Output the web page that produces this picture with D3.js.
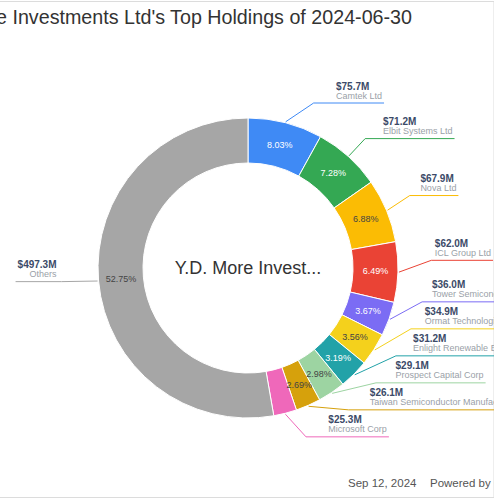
<!DOCTYPE html>
<html lang="en">
<head>
<meta charset="UTF-8">
<title>Y.D. More Investments Ltd's Top Holdings</title>
<script src="https://d3js.org/d3.v7.min.js"></script>
<style>
  body { margin: 0; font-family: "Liberation Sans", Arial, sans-serif; }
  .pct { font-size: 9px; text-anchor: middle; dominant-baseline: central; }
  .amt { font-size: 10px; font-weight: bold; fill: #3b4a68; }
  .nm { font-size: 9px; fill: #9a9fa8; }
</style>
</head>
<body>
<svg width="500" height="500"></svg>
<script>
const names = ["Camtek Ltd", "Elbit Systems Ltd", "Nova Ltd", "ICL Group Ltd", "Tower Semiconductor Ltd",
  "Ormat Technologies Inc", "Enlight Renewable Energy Ltd", "Prospect Capital Corp",
  "Taiwan Semiconductor Manufacturing Co Ltd", "Microsoft Corp", "Others"];
const amounts = [75.7, 71.2, 67.9, 62.0, 36.0, 34.9, 31.2, 29.1, 26.1, 25.3, 497.3];
const shares = [8.03, 7.28, 6.88, 6.49, 3.67, 3.56, 3.19, 2.98, 2.69, 2.48, 52.75];
const colors = ["#3f8af5", "#34a853", "#fbbc04", "#ea4335", "#7b6cf4", "#f4d11c",
  "#22a2a8", "#9dd4a2", "#d6a10c", "#ef68ba", "#a6a6a6"];

const svg = d3.select("svg");
const cx = 248, cy = 268, outer = 150, inner = 105;

svg.append("defs").append("clipPath").attr("id", "frame")
  .append("rect").attr("x", 0).attr("y", 0).attr("width", 494).attr("height", 498);
const root = svg.append("g").attr("clip-path", "url(#frame)");

root.append("rect")
  .attr("x", -20).attr("y", 1.5).attr("width", 514).attr("height", 496)
  .attr("fill", "white").attr("stroke", "#dcdcdc");

root.append("text")
  .attr("x", 412).attr("y", 24)
  .attr("text-anchor", "end")
  .style("font-size", "19.7px").style("fill", "#333")
  .text("Y.D. More Investments Ltd's Top Holdings of 2024-06-30");

root.append("text")
  .attr("x", 348).attr("y", 487)
  .style("font-size", "11.5px").style("fill", "#555")
  .text("Sep 12, 2024");
root.append("text")
  .attr("x", 430).attr("y", 487)
  .style("font-size", "11.5px").style("fill", "#555")
  .text("Powered by GuruFocus.com");

const data = names.map((n, i) => ({name: n, amount: amounts[i], share: shares[i], color: colors[i]}));
const pie = d3.pie().sort(null).value(d => d.share);
const arcs = pie(data);
const arc = d3.arc().innerRadius(inner).outerRadius(outer);

const g = root.append("g").attr("transform", `translate(${cx},${cy})`);

g.selectAll("path.slice")
  .data(arcs)
  .enter()
  .append("path")
  .attr("class", "slice")
  .attr("d", arc)
  .attr("fill", d => d.data.color)
  .attr("stroke", "white")
  .attr("stroke-width", 1);

g.selectAll("text.pct")
  .data(arcs.filter(d => d.data.share >= 2.5))
  .enter()
  .append("text")
  .attr("class", "pct")
  .attr("transform", d => `translate(${arc.centroid(d)})`)
  .style("fill", d => d3.lab(d.data.color).l > 65 ? "#444" : "#fff")
  .text(d => d.data.share.toFixed(2) + "%");

g.append("text")
  .attr("text-anchor", "middle")
  .attr("y", 6)
  .style("font-size", "18px").style("fill", "#333")
  .text("Y.D. More Invest...");

// label layout: want a spot above each slice, then push overlapping ones apart
const gap = 27, labelR = 187;
const labels = arcs.map(d => {
  const a = (d.startAngle + d.endAngle) / 2;
  const side = Math.sin(a) >= 0 ? 1 : -1;
  return {d, a, side, want: -158 * Math.cos(a) - (side > 0 ? 12 : 0)};
});

function spread(items) {
  const clusters = [];
  items.sort((p, q) => p.want - q.want).forEach(it => {
    clusters.push({items: [it], mean: it.want});
    while (clusters.length > 1) {
      const b = clusters[clusters.length - 1], a = clusters[clusters.length - 2];
      const aEnd = a.mean + gap * (a.items.length - 1) / 2;
      const bStart = b.mean - gap * (b.items.length - 1) / 2;
      if (bStart - aEnd >= gap) break;
      const all = a.items.concat(b.items);
      clusters.splice(-2, 2, {items: all, mean: d3.mean(all, x => x.want)});
    }
  });
  clusters.forEach(c => c.items.forEach((it, i) => {
    it.y = c.mean + gap * (i - (c.items.length - 1) / 2);
  }));
}
spread(labels.filter(l => l.side > 0));
spread(labels.filter(l => l.side < 0));

labels.forEach(l => {
  const dx = Math.sqrt(Math.max(0, labelR * labelR - l.y * l.y));
  const tx = l.side * dx;
  const lg = g.append("g");
  const anchor = l.side > 0 ? "start" : "end";
  const textX = l.side > 0 ? tx : tx - 5;
  const t1 = lg.append("text").attr("class", "amt")
    .attr("x", textX).attr("y", l.y - 13.5).attr("text-anchor", anchor)
    .text("$" + l.d.data.amount.toFixed(1) + "M");
  const t2 = lg.append("text").attr("class", "nm")
    .attr("x", textX).attr("y", l.y - 4.5).attr("text-anchor", anchor)
    .text(l.d.data.name);
  const w = Math.max(t1.node().getComputedTextLength(), t2.node().getComputedTextLength());
  const ax = (outer + 1) * Math.sin(l.a), ay = -(outer + 1) * Math.cos(l.a);
  const elbowX = l.side > 0 ? tx - 20 * Math.abs(Math.cos(l.a)) - 3 : tx;
  const endX = l.side > 0 ? textX + w + 2 : textX - w - 2;
  lg.insert("path", "text")
    .attr("d", d3.line()([[ax, ay], [elbowX, l.y], [endX, l.y]]))
    .attr("fill", "none")
    .attr("stroke", l.d.data.color)
    .attr("stroke-width", 1);
});
</script>
</body>
</html>
